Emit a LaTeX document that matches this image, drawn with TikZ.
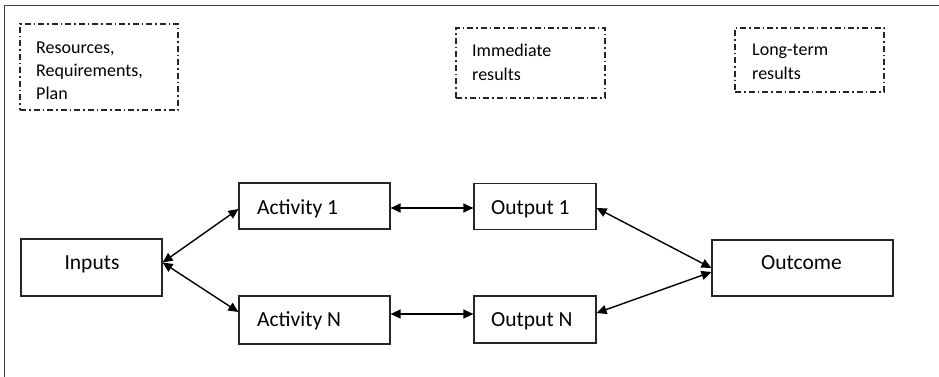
\documentclass[tikz,border=0pt]{standalone}
\usepackage{fontspec}
\setmainfont{Carlito}
\usetikzlibrary{arrows.meta}
\begin{document}
\begin{tikzpicture}[x=1pt,y=-1pt,
  box/.style={draw=black!85, line width=1.2pt, inner sep=0pt},
  note/.style={draw=black!85, line width=1.2pt, inner sep=0pt,
    dash pattern=on 6pt off 3pt on 1.5pt off 3pt},
  big/.style={inner sep=0pt, font=\fontsize{21.5}{26}\selectfont, text=black},
  small/.style={inner sep=0pt, align=left, anchor=north west,
    font=\fontsize{18}{24}\selectfont, text=black},
  link/.style={line width=1.4pt, {Triangle[length=10pt,width=9pt]}-{Triangle[length=10pt,width=9pt]}}]
  \useasboundingbox (0,0) rectangle (939,377);
  % outer frame (open at the bottom)
  \draw[line width=1pt, black!75] (4,377) -- (4,6) -- (939,6);

  % dash-dotted annotation boxes
  \node[note, minimum width=158pt, minimum height=86pt] (res) at (99,67) {};
  \node[note, minimum width=149pt, minimum height=70pt] (imm) at (530.5,63) {};
  \node[note, minimum width=149pt, minimum height=64pt] (lt)  at (809.5,60) {};
  \node[small, font=\fontsize{18}{23}\selectfont] (resT) at (36,42) {Resources,\\Requirements,\\Plan};
  \node[small] (immT) at (472,44) {Immediate\\results};
  \node[small] (ltT)  at (752,44) {Long-term\\results};

  % main boxes
  \node[box, minimum width=141pt, minimum height=57pt] (in)   at (91.5,267.5) {};
  \node[box, minimum width=151pt, minimum height=46pt] (act1) at (314.5,206) {};
  \node[box, minimum width=151pt, minimum height=48pt] (actN) at (314.5,320) {};
  \node[box, minimum width=122pt, minimum height=46pt] (out1) at (535,206.5) {};
  \node[box, minimum width=122pt, minimum height=47pt] (outN) at (535,319.5) {};
  \node[box, minimum width=181pt, minimum height=56pt] (outc) at (802.5,268) {};

  % box labels
  \node[big, anchor=base] (inT) at (92,269) {Inputs};
  \node[big, anchor=base west] (act1T) at (257,214) {Activity 1};
  \node[big, anchor=base west] (actNT) at (257,326) {Activity N};
  \node[big, anchor=base west] (out1T) at (491,214) {Output 1};
  \node[big, anchor=base west] (outNT) at (491,326) {Output N};
  \node[big, anchor=base] (outcT) at (801.5,269) {Outcome};

  % connectors
  \draw[link] ([yshift=5pt]in.east) -- ([yshift=-3pt]act1.west);
  \draw[link] ([yshift=5pt]in.east) -- ([yshift=8pt]actN.west);
  \draw[link] ([yshift=-2pt]act1.east) -- ([yshift=-1.5pt]out1.west);
  \draw[link] ([yshift=6pt]actN.east) -- ([yshift=5.5pt]outN.west);
  \draw[link] ([yshift=-1.5pt]out1.east) -- ([yshift=0pt]outc.west);
  \draw[link] ([yshift=6.5pt]outN.east) -- ([yshift=-4pt]outc.west);
\end{tikzpicture}
\end{document}
